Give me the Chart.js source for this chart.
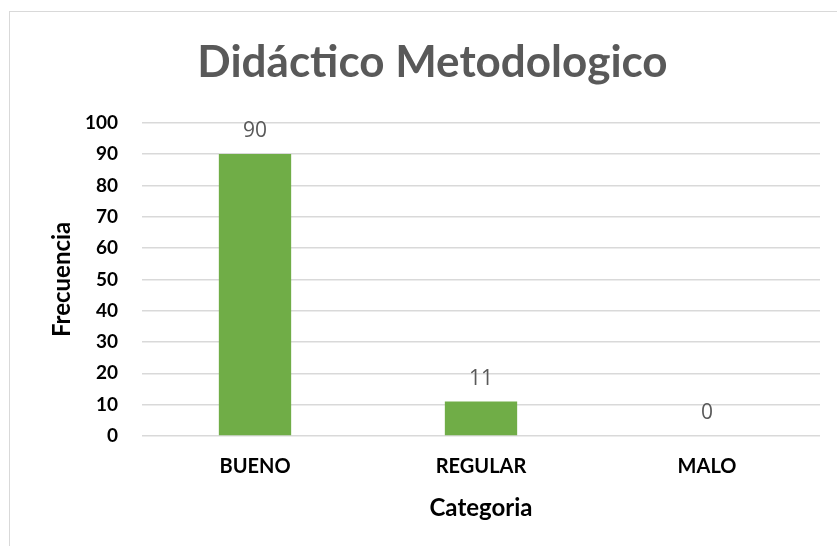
<!DOCTYPE html>
<html>
<head>
<meta charset="utf-8">
<script src="https://cdn.jsdelivr.net/npm/chart.js@4"></script>
<style>
  html, body { margin: 0; padding: 0; background: #fff; }
  #wrap { position: relative; width: 837px; height: 546px; overflow: hidden; }
  #frame { position: absolute; left: 9px; top: 11px; width: 900px; height: 600px; border: 1px solid #d9d9d9; box-sizing: border-box; }
  #box { position: absolute; left: 0; top: 0; width: 837px; height: 546px; }
</style>
</head>
<body>
<div id="wrap">
  <div id="frame"></div>
  <div id="box"><canvas id="myChart"></canvas></div>
</div>
<script>
var categorias = ["BUENO", "REGULAR", "MALO"];
var frecuencias = [90, 11, 0];
var ticksY = [0, 10, 20, 30, 40, 50, 60, 70, 80, 90, 100];

// etiquetas encima de cada barra
var barLabels = {
  id: 'barLabels',
  afterDatasetsDraw: function(chart) {
    var ctx = chart.ctx;
    var meta = chart.getDatasetMeta(0);
    ctx.save();
    ctx.fillStyle = '#595959';
    ctx.font = '21px "Open Sans"';
    ctx.textAlign = 'center';
    ctx.textBaseline = 'middle';
    meta.data.forEach(function(bar, i) {
      ctx.fillText(String(frecuencias[i]), bar.x, bar.y - 23);
    });
    ctx.restore();
  }
};

var ctx = document.getElementById("myChart").getContext('2d');
var myChart = new Chart(ctx, {
  type: 'bar',
  data: {
    labels: categorias,
    datasets: [{
      label: 'Frecuencia',
      data: frecuencias,
      backgroundColor: '#70ad47',
      borderWidth: 0,
      barPercentage: 0.32,
      categoryPercentage: 1
    }]
  },
  options: {
    responsive: true,
    maintainAspectRatio: false,
    animation: false,
    layout: { padding: { left: 45, right: 17, top: 36, bottom: 23 } },
    plugins: {
      legend: { display: false },
      tooltip: { enabled: false },
      title: {
        display: true,
        text: 'Didáctico Metodologico',
        color: '#595959',
        font: { family: 'Lato', size: 44, weight: 'bold' },
        padding: { top: 0, bottom: 34 }
      }
    },
    scales: {
      x: {
        afterFit: function(axis) { axis.height = 87; },
        grid: { display: false, drawTicks: false },
        border: { display: false },
        ticks: {
          color: '#000',
          padding: 19,
          font: { family: 'Lato', size: 20, weight: 'bold' }
        },
        title: {
          display: true,
          text: 'Categoria',
          color: '#000',
          font: { family: 'Lato', size: 24, weight: 'bold' },
          padding: { top: 14, bottom: 0 }
        }
      },
      y: {
        min: 0,
        max: 100,
        afterFit: function(axis) { axis.width = 97; },
        afterBuildTicks: function(axis) {
          axis.ticks = ticksY.map(function(v) { return { value: v }; });
        },
        grid: { color: '#d9d9d9', lineWidth: 1.5, drawTicks: false },
        border: { display: false },
        ticks: {
          color: '#000',
          padding: 24,
          font: { family: 'Lato', size: 19, weight: 'bold' }
        },
        title: {
          display: true,
          text: 'Frecuencia',
          color: '#000',
          font: { family: 'Lato', size: 24, weight: 'bold' },
          padding: { top: 3, bottom: 8 }
        }
      }
    }
  },
  plugins: [barLabels]
});
</script>
</body>
</html>
